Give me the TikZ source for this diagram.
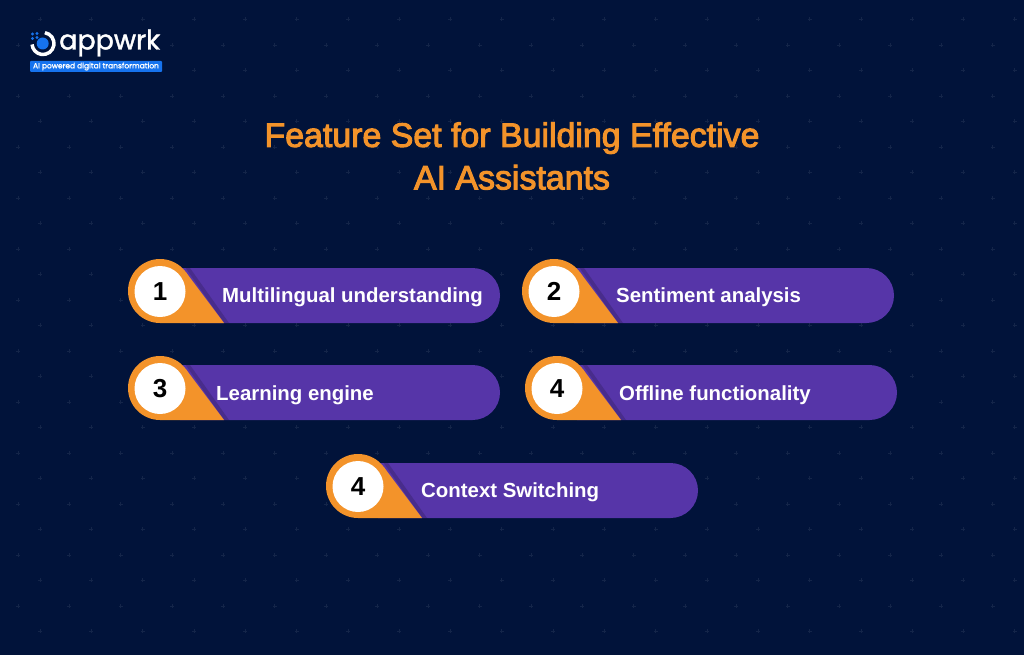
\documentclass[tikz,border=0pt]{standalone}
\usepackage{fontspec}
\setmainfont{Liberation Sans}
\newfontfamily\ttlfont[FakeBold=3]{Liberation Sans}
\newfontfamily\logofont[FakeBold=1.5]{Poppins}
\newfontfamily\lblfont{Liberation Sans}
\definecolor{bgc}{HTML}{01133A}
\definecolor{org}{HTML}{F3932A}
\definecolor{pur}{HTML}{5635A8}
\definecolor{lblue}{HTML}{1673EE}
\tikzset{
 lbl/.style={text=white,anchor=west,inner sep=0pt,font=\lblfont\bfseries\fontsize{20.4}{22}\selectfont},
 numc/.style={circle,fill=white,minimum size=51pt,inner sep=0pt,text=black,font=\lblfont\bfseries\fontsize{26}{30}\selectfont},
 gridmark/.style={white,opacity=.08,line width=.5pt},
}
\newcommand{\pillitem}[4]{% circle centre x, y, right end, number
 \fill[pur] (#1+20,#2-23) -- (#3-27.5,#2-23) arc[start angle=-90,end angle=90,radius=27.5] -- (#1+20,#2+32) -- cycle;
 \fill[black,opacity=.16] (#1+25.6,#2-23) -- (#1+30,#2-23) -- (#1+69,#2+32) -- (#1+64,#2+32) -- cycle;
 \fill[org] (#1,#2) circle[radius=32];
 \fill[org] (#1+25.6,#2-19.2) -- (#1+64,#2+32) -- (#1,#2+32) -- cycle;
 \node[numc] at (#1,#2+.5) {#4};
}
\begin{document}
\begin{tikzpicture}[x=1pt,y=-1pt]
\useasboundingbox (0,0) rectangle (1024,655);
\fill[bgc] (0,0) rectangle (1024,655);
\foreach \i in {0,...,19} \foreach \j in {0,...,12} {
  \draw[gridmark] ({18+\i*51.3-2},{45+\j*51}) -- ++(4,0) ({18+\i*51.3},{45+\j*51-2}) -- ++(0,4);
  \draw[gridmark] ({40+\i*51.3-2},{19+\j*51}) -- ++(4,0) ({40+\i*51.3},{19+\j*51-2}) -- ++(0,4);
}
% logo
\draw[white,line width=3.5pt] (43,43.5) ++(-80:11) arc[start angle=-80,end angle=175,radius=11];
\fill[lblue] (42.7,43.5) circle[radius=6];
\foreach \p/\q in {37/33.5,32.5/34,32.5/38.5,37/37.5}
  \fill[lblue] (\p,\q) circle[radius=1.7];
\node[anchor=west,inner sep=0pt,text=white,font=\logofont\fontsize{27}{27}\selectfont] (logo) at (59,43) {appwrk};
\fill[lblue,rounded corners=1pt] (30,61) rectangle (162,72);
\node[inner sep=0pt,text=white,font=\logofont\fontsize{7.5}{8}\selectfont] (tag) at (96,66.5) {AI powered digital transformation};
% title
\node[align=center,inner sep=0pt,text=org,font=\ttlfont\fontsize{33.9}{42.5}\selectfont] (title) at (512,156) {Feature Set for Building Effective\\AI Assistants};
% items
\pillitem{160}{291}{500}{1}
\node[lbl] (t1) at (222,297.3) {Multilingual understanding};
\pillitem{554}{291}{894}{2}
\node[lbl] (t2) at (616,297.3) {Sentiment analysis};
\pillitem{160}{388}{500}{3}
\node[lbl] (t3) at (216,395) {Learning engine};
\pillitem{557}{388}{897}{4}
\node[lbl] (t4) at (619,395) {Offline functionality};
\pillitem{358}{486}{698}{4}
\node[lbl] (t5) at (421,492.5) {Context Switching};
\end{tikzpicture}
\end{document}
